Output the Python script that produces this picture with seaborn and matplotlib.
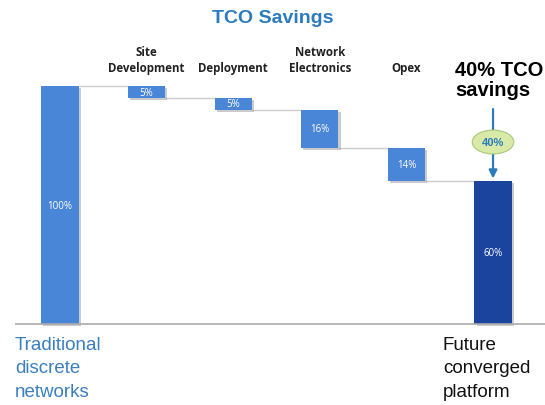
import numpy as np
import pandas as pd
import matplotlib
matplotlib.use("Agg")
import matplotlib.pyplot as plt
import matplotlib.patheffects as pe
from matplotlib.patches import Ellipse
import seaborn as sns

# data
steps = ["Traditional", "Site\nDevelopment", "Deployment", "Network\nElectronics", "Opex", "Future"]
values = [100, 5, 5, 16, 14, 60]
labels = ["100%", "5%", "5%", "16%", "14%", "60%"]
total_saving = 40

# waterfall tops/bottoms
bottoms = []
heights = []
level = 100
for i, v in enumerate(values):
  if i == 0 or i == len(values) - 1:
    bottoms.append(0)
    heights.append(v)
  else:
    level -= v
    bottoms.append(level)
    heights.append(v)

df = pd.DataFrame({"step": steps, "height": heights, "bottom": bottoms})

light = "#4a86d8"
dark = "#1b449e"

sns.set_style("white")
plt.rcParams['font.family'] = ['Liberation Sans', 'DejaVu Sans']

fig = plt.figure(figsize=(5.45, 4.06), dpi=100)
ax = fig.add_axes([0, 0, 1, 1])

shadow = [pe.SimplePatchShadow(offset=(1.5, -1.5), shadow_rgbFace="#999999", alpha=0.5), pe.Normal()]
sns.barplot(data=df, x="step", y="height", bottom=df["bottom"], color=light,
            width=0.43, saturation=1, ax=ax, linewidth=0)
for i, p in enumerate(ax.patches):
  p.set_path_effects(shadow)
  if i == len(ax.patches) - 1:
    p.set_facecolor(dark)

ax.set_xlim(-0.693, 5.60)
ax.set_ylim(-34.0, 136.6)
ax.axis("off")

# connectors
w = 0.43 / 2
ax.hlines(100, 0 + w, 1 - w, color="#cccccc", lw=1, zorder=0)
for i in range(1, len(values) - 1):
  ax.hlines(bottoms[i], i + w, i + 1 - w, color="#cccccc", lw=1, zorder=0)

# baseline
ax.hlines(0, -0.52, 5.6, color="#aaaaaa", lw=1.2)

# value labels
for i, lab in enumerate(labels):
  if i == 0:
    y = 50
  elif i == len(values) - 1:
    y = 30
  else:
    y = bottoms[i] + heights[i] / 2
  ax.text(i, y, lab, color="white", fontsize=7, ha="center", va="center", family=["Open Sans", "DejaVu Sans"])

# category headers
for i in range(1, len(values) - 1):
  ax.text(i, 105, steps[i], ha="center", va="bottom", fontsize=8.3, fontweight="bold",
          color="#222222", linespacing=1.35, family=["Open Sans", "DejaVu Sans"])

# title
fig.text(0.5, 0.955, "TCO Savings", ha="center", va="center", fontsize=14, fontweight="bold", color="#2b7bbd")

# annotation
ax.text(4.56, 94.5, f"{total_saving}% TCO\nsavings", ha="left", va="bottom", fontsize=14.5,
        fontweight="bold", color="black", linespacing=1.05)
ax.annotate("", xy=(5.0, 60), xytext=(5.0, 91.5),
            arrowprops=dict(arrowstyle="-|>", color="#2b7bbd", lw=1.6, mutation_scale=12))
ax.add_patch(Ellipse((5.0, 76.5), 0.48, 10, facecolor="#d8e9a8", edgecolor="#a9c97a", lw=0.8, zorder=5))
ax.text(5.0, 76.5, f"{total_saving}%", ha="center", va="center", fontsize=8, fontweight="bold",
        color="#2b7bbd", zorder=6)

# bottom labels
ax.text(-0.52, -5, "Traditional\ndiscrete\nnetworks", ha="left", va="top", fontsize=13.5,
        color="#3a7fbf", linespacing=1.5)
ax.text(4.42, -5, "Future\nconverged\nplatform", ha="left", va="top", fontsize=13.5,
        color="#111111", linespacing=1.5)

fig.savefig("out.png", dpi=100)
